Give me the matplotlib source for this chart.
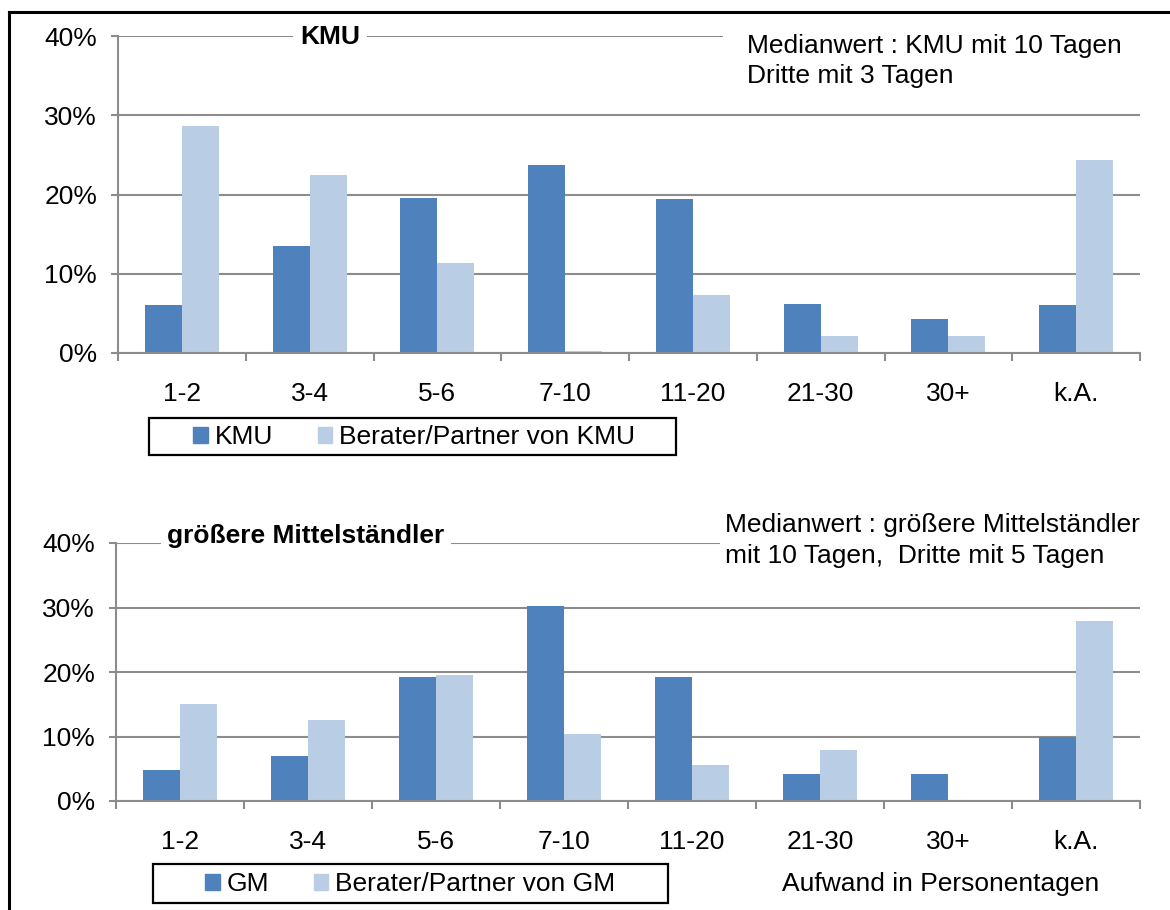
import matplotlib
matplotlib.use('Agg')
import matplotlib.pyplot as plt
from matplotlib.lines import Line2D
from matplotlib.patches import Rectangle, Patch
from matplotlib.ticker import FixedLocator

plt.rcParams['font.family'] = ['Liberation Sans', 'DejaVu Sans']

categories = ['1-2', '3-4', '5-6', '7-10', '11-20', '21-30', '30+', 'k.A.']

kmu = [6.0, 13.5, 19.6, 23.7, 19.4, 6.2, 4.3, 6.0]
kmu_berater = [28.7, 22.4, 11.4, 0.3, 7.3, 2.1, 2.1, 24.4]

gm = [4.8, 7.0, 19.2, 30.2, 19.2, 4.2, 4.2, 9.9]
gm_berater = [15.1, 12.6, 19.6, 10.4, 5.6, 7.9, 0.0, 27.9]

y_ticks = [0, 10, 20, 30, 40]
y_labels = ['0%', '10%', '20%', '30%', '40%']

DARK = '#4F81BD'
LIGHT = '#B9CDE5'
GRID = '#8C8C8C'
FS = 19

W, H = 1170, 910
fig = plt.figure(figsize=(W / 100, H / 100), dpi=100)


def fx(px):
    return px / W


def fy(py):
    return 1 - py / H


def draw_panel(ax, s1, s2):
    x = list(range(len(categories)))
    w = 0.29
    ax.bar([i - w / 2 for i in x], s1, width=w, color=DARK, zorder=3)
    ax.bar([i + w / 2 for i in x], s2, width=w, color=LIGHT, zorder=3)
    ax.set_xlim(-0.5, len(categories) - 0.5)
    ax.set_ylim(0, 40)
    ax.set_yticks(y_ticks)
    ax.set_yticklabels(y_labels, fontsize=FS)
    ax.set_xticks(x)
    ax.set_xticklabels(categories, fontsize=FS)
    ax.xaxis.set_minor_locator(FixedLocator([i - 0.5 for i in range(len(categories) + 1)]))
    ax.tick_params(axis='x', which='major', length=0, pad=21)
    ax.tick_params(axis='x', which='minor', length=6, width=1.5, color=GRID, direction='out')
    ax.tick_params(axis='y', which='major', length=5, width=1.5, color=GRID, pad=10)
    ax.yaxis.grid(True, color=GRID, linewidth=1.5)
    ax.set_axisbelow(True)
    for s in ['top', 'right']:
        ax.spines[s].set_visible(False)
    for s in ['left', 'bottom']:
        ax.spines[s].set_color(GRID)
        ax.spines[s].set_linewidth(1.5)
    ax.spines['bottom'].set_zorder(4)


def legend_box(labels, cx, cy, x0, x1, y0, y1):
    leg = fig.legend(handles=[Patch(color=DARK, label=labels[0]),
                              Patch(color=LIGHT, label=labels[1])],
                     loc='center', bbox_to_anchor=(fx(cx), fy(cy)), ncol=2, fontsize=FS,
                     frameon=False, handlelength=0.55, handleheight=0.55,
                     handletextpad=0.25, columnspacing=1.7, borderpad=0, borderaxespad=0)
    fig.patches.append(Rectangle((fx(x0), fy(y1)), fx(x1) - fx(x0), fy(y0) - fy(y1),
                                 transform=fig.transFigure, fc='none', ec='black',
                                 linewidth=1.6))
    return leg


# top panel
ax1 = fig.add_axes([fx(118), fy(353), fx(1140) - fx(118), fy(36) - fy(353)])
draw_panel(ax1, kmu, kmu_berater)
fig.text(fx(330), fy(37), 'KMU', fontsize=FS, fontweight='bold',
         ha='center', va='center', zorder=6,
         bbox=dict(fc='white', ec='none', pad=5))
fig.patches.append(Rectangle((fx(723), fy(100)), 1 - fx(723), fy(25) - fy(100),
                             transform=fig.transFigure, fc='white', ec='none', zorder=5))
fig.text(fx(747), fy(46), 'Medianwert : KMU mit 10 Tagen', fontsize=FS, va='center', zorder=6)
fig.text(fx(747), fy(76), 'Dritte mit 3 Tagen', fontsize=FS, va='center', zorder=6)

legend_box(['KMU', 'Berater/Partner von KMU'], 414, 437, 149, 676, 418, 455)

# bottom panel
ax2 = fig.add_axes([fx(116), fy(801), fx(1140) - fx(116), fy(543) - fy(801)])
draw_panel(ax2, gm, gm_berater)
fig.text(fx(306), fy(536), 'größere Mittelständler', fontsize=FS, fontweight='bold',
         ha='center', va='center', zorder=6,
         bbox=dict(fc='white', ec='none', pad=5))
fig.patches.append(Rectangle((fx(720), fy(575)), 1 - fx(720), fy(510) - fy(575),
                             transform=fig.transFigure, fc='white', ec='none', zorder=5))
fig.text(fx(725), fy(525), 'Medianwert : größere Mittelständler', fontsize=FS, va='center', zorder=6)
fig.text(fx(725), fy(556), 'mit 10 Tagen,  Dritte mit 5 Tagen', fontsize=FS, va='center', zorder=6)

legend_box(['GM', 'Berater/Partner von GM'], 410, 884, 153, 668, 864, 903)

fig.text(fx(941), fy(884), 'Aufwand in Personentagen', fontsize=FS, ha='center', va='center')

# outer frame
fig.add_artist(Line2D([fx(9), 1], [fy(12), fy(12)], color='black', linewidth=2.2))
fig.add_artist(Line2D([fx(9), fx(9)], [0, fy(12)], color='black', linewidth=2.2))

fig.savefig('out.png', dpi=100)
